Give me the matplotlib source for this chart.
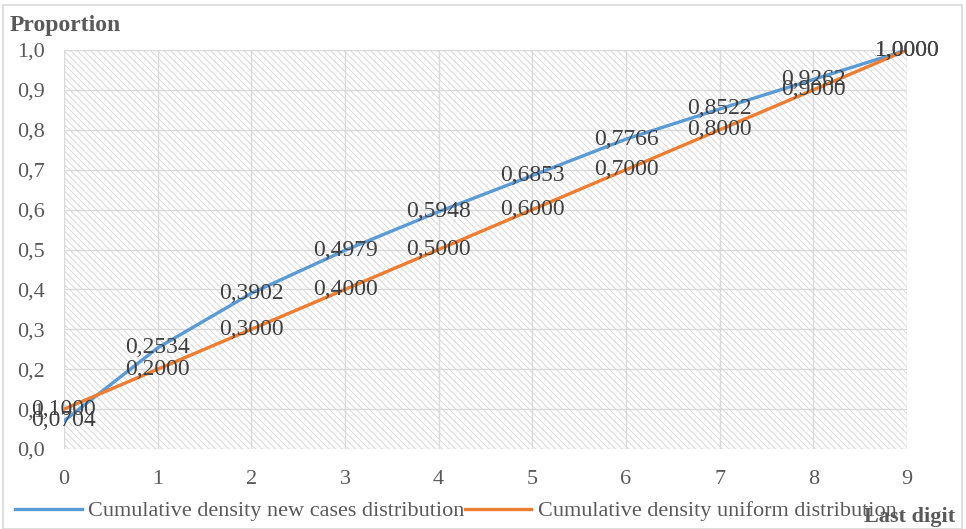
import matplotlib
matplotlib.use('Agg')
import matplotlib.pyplot as plt
from matplotlib.patches import Rectangle
from matplotlib.lines import Line2D

# ---- data ----
digits = [0, 1, 2, 3, 4, 5, 6, 7, 8, 9]
new_cases_cum = [0.0704, 0.2534, 0.3902, 0.4979, 0.5948, 0.6853, 0.7766, 0.8522, 0.9262, 1.0000]
uniform_cum = [0.1000, 0.2000, 0.3000, 0.4000, 0.5000, 0.6000, 0.7000, 0.8000, 0.9000, 1.0000]
y_ticks = [0.0, 0.1, 0.2, 0.3, 0.4, 0.5, 0.6, 0.7, 0.8, 0.9, 1.0]

BLUE = '#5B9BD5'
ORANGE = '#ED7D31'
GRID = '#D9D9D9'
TEXT = '#595959'

plt.rcParams['font.family'] = ['Liberation Serif', 'DejaVu Serif']
plt.rcParams['hatch.color'] = '#D4D4D4'
plt.rcParams['hatch.linewidth'] = 0.6

W, H = 966, 529
fig = plt.figure(figsize=(W / 100, H / 100), dpi=100)

# outer chart border
fig.add_artist(Rectangle((3 / W, 0), 959 / W, 1 - 5 / H, transform=fig.transFigure,
                         fill=False, edgecolor='#D9D9D9', linewidth=1.2))

ax = fig.add_axes([64 / W, 1 - 449 / H, (907 - 64) / W, (449 - 50) / H])
ax.set_xlim(0, 9)
ax.set_ylim(0, 1.0)

# hatched plot area
ax.add_patch(Rectangle((0, 0), 1, 1, transform=ax.transAxes, facecolor='white',
                       edgecolor='#D4D4D4', hatch='\\\\\\\\\\', linewidth=0, zorder=0))

for x in digits:
    ax.axvline(x, color=GRID, linewidth=1, zorder=1)
for y in y_ticks:
    ax.axhline(y, color=GRID, linewidth=1, zorder=1)

ax.plot(digits, new_cases_cum, color=BLUE, linewidth=2.4, zorder=3,
        solid_capstyle='round')
ax.plot(digits, uniform_cum, color=ORANGE, linewidth=2.4, zorder=3,
        solid_capstyle='round')

for x, y in zip(digits, new_cases_cum):
    ax.text(x, y, f'{y:.4f}'.replace('.', ','), ha='center', va='center',
            fontsize=17, color='#404040', zorder=4, clip_on=False)
for x, y in zip(digits, uniform_cum):
    ax.text(x, y, f'{y:.4f}'.replace('.', ','), ha='center', va='center',
            fontsize=17, color='#404040', zorder=4, clip_on=False)

for s in ax.spines.values():
    s.set_visible(False)
ax.set_xticks(digits)
ax.set_yticks(y_ticks)
ax.set_yticklabels([f'{v:.1f}'.replace('.', ',') for v in y_ticks])
ax.tick_params(length=0, labelsize=16, colors=TEXT)
ax.tick_params(axis='y', pad=14)
ax.tick_params(axis='x', pad=15)

fig.text(10 / W, 1 - 25 / H, 'Proportion', fontsize=17, fontweight='bold',
         color=TEXT, ha='left', va='center')
fig.text(955 / W, 1 - 517 / H, 'Last digit', fontsize=16, fontweight='bold',
         color=TEXT, ha='right', va='center')

# legend
handles = [Line2D([], [], color=BLUE, linewidth=2.4),
           Line2D([], [], color=ORANGE, linewidth=2.4)]
fig.legend(handles, ['Cumulative density new cases distribution',
                     'Cumulative density uniform distribution'],
           loc='center left', bbox_to_anchor=(15 / W, 1 - 511 / H), ncol=2,
           frameon=False, fontsize=16, handlelength=3.0, handletextpad=0.3,
           columnspacing=0.0, borderaxespad=0, borderpad=0, labelcolor=TEXT)

fig.savefig('out.png', dpi=100)
